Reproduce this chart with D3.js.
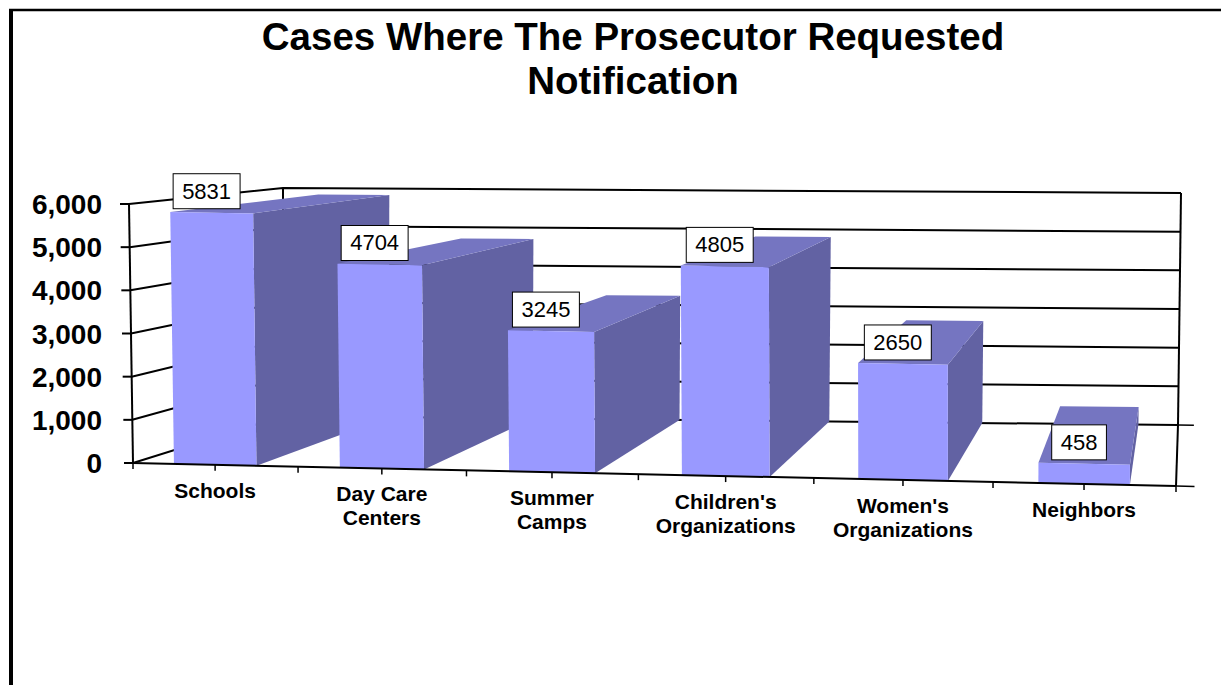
<!doctype html>
<html>
<head>
<meta charset="utf-8">
<title>Cases Where The Prosecutor Requested Notification</title>
<script src="https://d3js.org/d3.v7.min.js"></script>
<style>
  body { margin: 0; background: #fff; }
  svg { display: block; font-family: "Liberation Sans", Arial, sans-serif; }
</style>
</head>
<body>
<svg id="chart" width="1221" height="685"></svg>
<script>
    // data
    var categories = ["Schools", "Day Care Centers", "Summer Camps",
        "Children's Organizations", "Women's Organizations", "Neighbors"];
    var categoryLines = [["Schools"], ["Day Care", "Centers"], ["Summer", "Camps"],
        ["Children's", "Organizations"], ["Women's", "Organizations"], ["Neighbors"]];
    var values = [5831, 4704, 3245, 4805, 2650, 458];
    var yTicks = [0, 1000, 2000, 3000, 4000, 5000, 6000];
    var yMax = 6000;

    var svg = d3.select("#chart");

    // screen position of the 8 corners of the plot box, key = u v w (0 or 1)
    // u: along categories, v: value, w: depth (0 front, 1 back)
    var corners = {
        "000": [133, 463], "010": [129, 204], "001": [283, 416], "011": [283, 188],
        "100": [1176, 486], "110": [1177, 222], "101": [1178, 425], "111": [1181, 193]
    };
    var persp = -0.06;   // bit of foreshortening toward the left

    var u = d3.scaleLinear().domain([0, categories.length]).range([0, 1]);
    var v = d3.scaleLinear().domain([0, yMax]).range([0, 1]);
    var band = d3.scaleBand().domain(categories)
        .range([0, categories.length])
        .paddingInner(0.5).paddingOuter(0.25);

    function proj(cu, cv, w) {
        var s = u(cu);
        s = s * (1 + persp) / (1 + persp * s);
        var t = v(cv);
        var x = 0, y = 0;
        [0, 1].forEach(a => [0, 1].forEach(b => [0, 1].forEach(d => {
            var wt = (a ? s : 1 - s) * (b ? t : 1 - t) * (d ? w : 1 - w);
            var p = corners["" + a + b + d];
            x += wt * p[0];
            y += wt * p[1];
        })));
        return [x, y];
    }

    var line = d3.line();
    var n = categories.length;

    // frame
    svg.append("line").attr("x1", 11).attr("y1", 9).attr("x2", 11).attr("y2", 685)
        .attr("stroke", "#000").attr("stroke-width", 4);
    svg.append("line").attr("x1", 9).attr("y1", 10).attr("x2", 1221).attr("y2", 10)
        .attr("stroke", "#000").attr("stroke-width", 2.5);

    // title
    var title = svg.append("text")
        .attr("text-anchor", "middle")
        .style("font-size", "38.5px").style("font-weight", "bold");
    title.append("tspan").attr("x", 633).attr("y", 50).text("Cases Where The Prosecutor Requested");
    title.append("tspan").attr("x", 633).attr("y", 94).text("Notification");

    // walls: left wall + back wall gridlines
    var grid = svg.append("g").attr("fill", "none").attr("stroke", "#000").attr("stroke-width", 2);
    yTicks.forEach(function(t) {
        grid.append("path").attr("d", line([proj(0, t, 0), proj(0, t, 1), proj(n, t, 1)]));
    });
    grid.append("path").attr("d", line([proj(0, 0, 1), proj(0, yMax, 1)]));
    grid.append("path").attr("d", line([proj(n, 0, 1), proj(n, yMax, 1)]));
    grid.append("path").attr("d", line([proj(n, 0, 1), proj(n, 0, 0)]));

    // bars, left to right so the next front face covers the previous side
    var bars = svg.append("g");
    values.forEach(function(val, i) {
        var u0 = band(categories[i]), u1 = u0 + band.bandwidth();
        var g = bars.append("g");
        g.append("path")
            .attr("d", line([proj(u1, 0, 0), proj(u1, val, 0), proj(u1, val, 1), proj(u1, 0, 1)]) + "Z")
            .attr("fill", "#6262a3");
        g.append("path")
            .attr("d", line([proj(u0, val, 0), proj(u0, val, 1), proj(u1, val, 1), proj(u1, val, 0)]) + "Z")
            .attr("fill", "#7575c1");
        g.append("path")
            .attr("d", line([proj(u0, 0, 0), proj(u0, val, 0), proj(u1, val, 0), proj(u1, 0, 0)]) + "Z")
            .attr("fill", "#9999ff");
    });

    // front floor edge, value axis, ticks
    var axes = svg.append("g").attr("fill", "none").attr("stroke", "#000").attr("stroke-width", 2);
    axes.append("path").attr("d", line([proj(0, 0, 0), proj(n, 0, 0)]));
    axes.append("path").attr("d", line([proj(0, 0, 0), proj(0, yMax, 0)]));
    axes.append("path").attr("d", line([proj(n, 0, 0), proj(n + 0.1, 0, 0)])).attr("stroke-width", 1.5);
    axes.append("path").attr("d", line([proj(n, 0, 1), proj(n + 0.1, 0, 1)])).attr("stroke-width", 1.5);
    d3.range(0, n + 0.5, 0.5).forEach(function(k) {
        var p = proj(k, 0, 0);
        axes.append("path").attr("d", line([p, [p[0], p[1] + 6]])).attr("stroke-width", 1.5);
    });
    yTicks.forEach(function(t) {
        var p = proj(0, t, 0);
        axes.append("path").attr("d", line([[p[0] - 9, p[1]], p]));
    });

    // value labels
    svg.append("g")
        .style("font-size", "28px").style("font-weight", "bold")
        .attr("text-anchor", "end")
        .selectAll("text").data(yTicks).join("text")
        .attr("x", 102)
        .attr("y", t => proj(0, t, 0)[1])
        .attr("dy", "0.36em")
        .text(d3.format(","));

    // category labels
    var cats = svg.append("g")
        .style("font-size", "21px").style("font-weight", "bold")
        .attr("text-anchor", "middle");
    categoryLines.forEach(function(lines, i) {
        var p = proj(band(categories[i]) + band.bandwidth() / 2, 0, 0);
        var txt = cats.append("text");
        lines.forEach(function(l, j) {
            txt.append("tspan").attr("x", p[0]).attr("y", p[1] + 33 + j * 24).text(l);
        });
    });

    // data labels in boxes
    var labels = svg.append("g").style("font-size", "22px");
    values.forEach(function(val, i) {
        var u0 = band(categories[i]);
        var p = proj(u0 + band.bandwidth() / 2, val, 0);
        var cx = p[0] - 5, bottom = p[1] - 4;
        var g = labels.append("g");
        var rect = g.append("rect").attr("fill", "#fff").attr("stroke", "#000").attr("stroke-width", 1);
        var txt = g.append("text").attr("x", cx).attr("y", bottom - 10)
            .attr("text-anchor", "middle").text(val);
        var w = txt.node().getComputedTextLength() + 18;
        rect.attr("x", cx - w / 2).attr("y", bottom - 35).attr("width", w).attr("height", 35);
    });
</script>
</body>
</html>
